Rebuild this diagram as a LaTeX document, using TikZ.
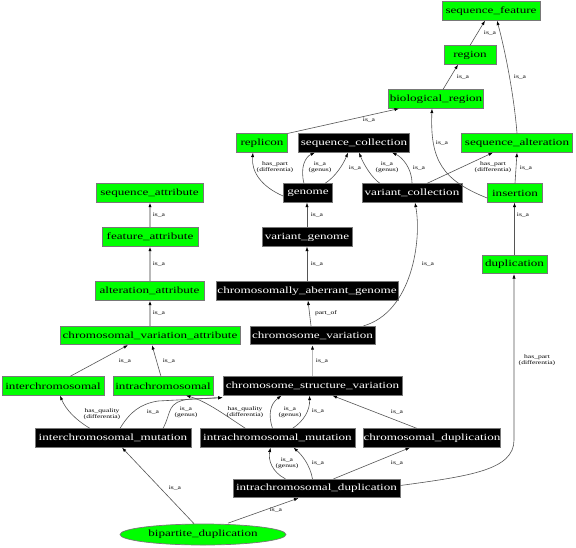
\documentclass[tikz,border=0pt]{standalone}
\usepackage{fontspec}
\usetikzlibrary{arrows.meta,shapes.geometric}
\newfontfamily\nodefnt{Liberation Serif}[FakeStretch=1.38]
\definecolor{gfill}{RGB}{0,255,0}
\definecolor{bord}{RGB}{120,120,120}
\definecolor{edgec}{RGB}{85,85,85}
\definecolor{thickc}{RGB}{185,185,185}
\tikzset{
  base/.style={rectangle,draw=bord,line width=0.7pt,inner sep=0pt,minimum height=18.5pt,
    font=\nodefnt\fontsize{9.5}{10}\selectfont},
  gbox/.style={base,fill=gfill,text=black},
  bbox/.style={base,fill=black,text=white},
  e/.style={draw=edgec,line width=0.6pt,-{Latex[length=4.5pt,width=3.2pt,black]}},
  te/.style={draw=thickc,line width=1.8pt,-{Latex[length=4.5pt,width=3.2pt,black]}},
  lbl/.style={inner sep=0pt,align=center,font=\nodefnt\fontsize{5.5}{5.6}\selectfont},
}
\begin{document}
\begin{tikzpicture}[x=1pt,y=-1pt]
\useasboundingbox[fill=white] (0,0) rectangle (576,547);
% nodes
\node[gbox,minimum width=98] (sf) at (491,11) {sequence\_feature};
\node[gbox,minimum width=52] (region) at (470,55) {region};
\node[gbox,minimum width=95] (bioreg) at (436,99) {biological\_region};
\node[gbox,minimum width=51] (replicon) at (262,143) {replicon};
\node[bbox,minimum width=111] (seqcoll) at (354,143) {sequence\_collection};
\node[gbox,minimum width=111] (seqalt) at (517,143) {sequence\_alteration};
\node[bbox,minimum width=49] (genome) at (308,193) {genome};
\node[bbox,minimum width=100] (varcoll) at (412,193) {variant\_collection};
\node[gbox,minimum width=55] (insertion) at (515,193) {insertion};
\node[gbox,minimum width=107] (seqattr) at (149.5,193) {sequence\_attribute};
\node[gbox,minimum width=96] (featattr) at (150,237) {feature\_attribute};
\node[bbox,minimum width=90] (vargen) at (307,237) {variant\_genome};
\node[gbox,minimum width=65] (dup) at (514.5,264.5) {duplication};
\node[gbox,minimum width=109] (altattr) at (149.5,291) {alteration\_attribute};
\node[bbox,minimum width=182] (cag) at (307,291) {chromosomally\_aberrant\_genome};
\node[gbox,minimum width=180] (cva) at (150,335.5) {chromosomal\_variation\_attribute};
\node[bbox,minimum width=125] (cv) at (312.5,335.5) {chromosome\_variation};
\node[gbox,minimum width=102] (interchr) at (53,386) {interchromosomal};
\node[gbox,minimum width=100] (intrachr) at (163,386) {intrachromosomal};
\node[bbox,minimum width=179] (csv) at (312.5,386) {chromosome\_structure\_variation};
\node[bbox,minimum width=156] (icm) at (113,438) {interchromosomal\_mutation};
\node[bbox,minimum width=155] (iam) at (277.5,438) {intrachromosomal\_mutation};
\node[bbox,minimum width=136] (cd) at (432,438) {chromosomal\_duplication};
\node[bbox,minimum width=167] (iad) at (316.5,488.5) {intrachromosomal\_duplication};
\node[base,ellipse,fill=gfill,minimum width=166,minimum height=21] (bd) at (203,534.5) {bipartite\_duplication};
% edges
\draw[e] (region.north) -- ([xshift=-6]sf.south);
\node[lbl] (l1) at (490,33) {is\_a};
\draw[e] ([xshift=7]bioreg.north) -- ([xshift=-12]region.south);
\node[lbl] (l2) at (463,77) {is\_a};
\draw[e] (seqalt.north) .. controls (514,95) and (505,50) .. ([xshift=6]sf.south);
\node[lbl] (l3) at (520,77) {is\_a};
\draw[e] (replicon.north east) -- ([xshift=-37]bioreg.south);
\node[lbl] (l4) at (369,120) {is\_a};
\draw[e] ([yshift=-3]genome.west) .. controls (262,187) and (251,172) .. ([xshift=-9]replicon.south);
\node[lbl] (l5) at (275,167) {has\_part\\(differentia)};
\draw[e] ([xshift=-4]genome.north) .. controls (300,168) and (305,157) .. ([xshift=-39]seqcoll.south);
\node[lbl] (l6) at (320,167) {is\_a\\(genus)};
\draw[e] ([xshift=17]genome.north) .. controls (335,177) and (343,165) .. ([xshift=-6]seqcoll.south);
\node[lbl] (l7) at (355,168) {is\_a};
\draw[e] ([xshift=-32]varcoll.north) .. controls (372,178) and (364,165) .. ([xshift=5]seqcoll.south);
\node[lbl] (l8) at (387,167) {is\_a\\(genus)};
\draw[e] (varcoll.north) .. controls (412,168) and (402,157) .. ([xshift=38]seqcoll.south);
\node[lbl] (l9) at (419,168) {is\_a};
\draw[e] ([xshift=15]varcoll.north) -- ([xshift=-24]seqalt.south);
\node[lbl] (l10) at (493,167) {has\_part\\(differentia)};
\draw[e] ([yshift=-5]insertion.west) .. controls (442,180) and (430,160) .. ([xshift=-4]bioreg.south);
\node[lbl] (l11) at (442,143) {is\_a};
\draw[e] (insertion.north) -- (seqalt.south);
\node[lbl] (l12) at (526,168) {is\_a};
\draw[e] (vargen.north) -- (genome.south -| vargen.north);
\node[lbl] (l13) at (317,215) {is\_a};
\draw[e] (cag.north) -- (vargen.south);
\node[lbl] (l14) at (317,264) {is\_a};
\draw[e] ([xshift=-1.5]cv.north) -- ([xshift=1]cag.south);
\node[lbl] (l15) at (326,313) {part\_of};
\draw[e] ([xshift=51]cv.north) .. controls (412,312) and (422,240) .. ([xshift=3]varcoll.south);
\node[lbl] (l16) at (428,264) {is\_a};
\draw[e] (dup.north) -- (insertion.south -| dup.north);
\node[lbl] (l17) at (523,215) {is\_a};
\draw[te] (featattr.north) -- (seqattr.south -| featattr.north);
\node[lbl] (l18) at (159,215) {is\_a};
\draw[te] (altattr.north -| featattr.south) -- (featattr.south);
\node[lbl] (l19) at (159,264) {is\_a};
\draw[te] (cva.north) -- (altattr.south -| cva.north);
\node[lbl] (l20) at (159,313) {is\_a};
\draw[te] (csv.north) -- (cv.south);
\node[lbl] (l21) at (322,361) {is\_a};
\draw[e] ([xshift=17]interchr.north) -- ([xshift=-22]cva.south);
\node[lbl] (l22) at (125,361) {is\_a};
\draw[e] ([xshift=-2]intrachr.north) -- ([xshift=2]cva.south);
\node[lbl] (l23) at (169,361) {is\_a};
\draw[e] ([xshift=-23]icm.north) .. controls (76,420) and (66,410) .. ([xshift=7]interchr.south);
\node[lbl] (l24) at (102,414) {has\_quality\\(differentia)};
\draw[e] ([xshift=7]icm.north) .. controls (130,412) and (140,404) .. (158,401) -- ([yshift=-2]csv.south west);
\node[lbl] (l25) at (153,412) {is\_a};
\draw[e] ([xshift=50]icm.north) .. controls (172,412) and (166,402) .. (190,399) -- ([yshift=-2]csv.south west);
\node[lbl] (l26) at (186,412) {is\_a\\(genus)};
\draw[e] ([xshift=-32]iam.north) .. controls (225,415) and (206,401) .. ([xshift=23]intrachr.south);
\node[lbl] (l27) at (245,412) {has\_quality\\(differentia)};
\draw[e] ([xshift=-5]iam.north) .. controls (268,415) and (270,404) .. ([xshift=-31]csv.south);
\node[lbl] (l28) at (290,412) {is\_a\\(genus)};
\draw[e] ([xshift=15]iam.north) .. controls (304,421) and (310,410) .. ([xshift=-3]csv.south);
\node[lbl] (l29) at (318,411) {is\_a};
\draw[e] ([xshift=-15]cd.north) -- ([xshift=20]csv.south);
\node[lbl] (l30) at (397,412) {is\_a};
\draw[e] ([xshift=-31]iad.north) .. controls (272,472) and (268,460) .. ([xshift=-7]iam.south);
\node[lbl] (l31) at (287,463) {is\_a\\(genus)};
\draw[e] ([xshift=-4]iad.north) .. controls (310,465) and (302,455) .. ([xshift=16]iam.south);
\node[lbl] (l32) at (318,463) {is\_a};
\draw[e] ([xshift=17]iad.north) -- ([xshift=-22]cd.south);
\node[lbl] (l33) at (397,463) {is\_a};
\draw[e] ([yshift=3]iad.east) .. controls (470,476) and (514,470) .. (514,440) -- (dup.south -| 514,0);
\node[lbl] (l34) at (537,360) {has\_part\\(differentia)};
\draw[e] ([xshift=-9]bd.north) -- ([xshift=9]icm.south);
\node[lbl] (l35) at (175,488) {is\_a};
\draw[e] ([xshift=25,yshift=0.5]bd.north) -- ([xshift=-18]iad.south);
\node[lbl] (l36) at (276,510) {is\_a};
\end{tikzpicture}
\end{document}
